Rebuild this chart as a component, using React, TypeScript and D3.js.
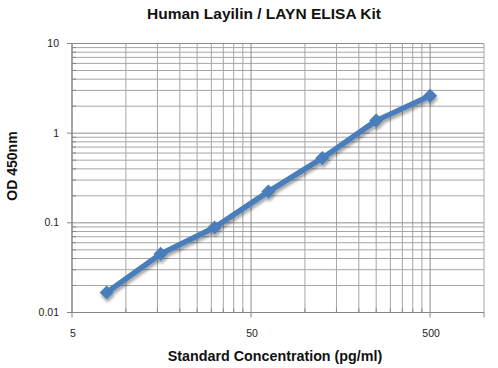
import React from "react";
import * as d3 from "d3";

const concentrations = [7.8125, 15.625, 31.25, 62.5, 125, 250, 500];
const odValues = [0.0167, 0.045, 0.0887, 0.223, 0.526, 1.38, 2.61];
const xTickLabels = [5, 50, 500];
const yTickLabels = [0.01, 0.1, 1, 10];
const title = "Human Layilin / LAYN ELISA Kit";
const xTitle = "Standard Concentration (pg/ml)";
const yTitle = "OD 450nm";

const W = 498;
const H = 368;
const M = { left: 72, right: 484, top: 43.5, bottom: 312.5 };

export default function App() {
  const x = d3.scaleLog().domain([5, 1000]).range([M.left, M.right]);
  const y = d3.scaleLog().domain([0.01, 10]).range([M.bottom, M.top]);

  const xMinor: number[] = [];
  [5, 50].forEach((b) => {
    for (let k = 2; k <= 9; k++) xMinor.push(b * k);
  });
  const yMinor: number[] = [];
  [0.01, 0.1, 1].forEach((b) => {
    for (let k = 2; k <= 9; k++) yMinor.push(b * k);
  });

  const line = d3
    .line<number>()
    .x((_, i) => x(concentrations[i]))
    .y((d) => y(d));

  const gridColor = "#a6a6a6";
  const axisColor = "#868686";
  const blue = "#4a7ebb";
  const font = "'Liberation Sans', Arial, sans-serif";

  return (
    <svg width={W} height={H} style={{ position: "absolute", left: 0, top: 0, background: "#fff" }}>
      <defs>
        <filter id="shadow" x="-20%" y="-20%" width="140%" height="160%">
          <feGaussianBlur in="SourceAlpha" stdDeviation="1.5" />
          <feOffset dx="1" dy="2.5" result="ob" />
          <feComponentTransfer>
            <feFuncA type="linear" slope="0.35" />
          </feComponentTransfer>
          <feMerge>
            <feMergeNode />
            <feMergeNode in="SourceGraphic" />
          </feMerge>
        </filter>
      </defs>
      <rect x={0} y={0} width={W} height={H} fill="#fff" />
      <text x={264} y={19} textAnchor="middle" fontFamily={font} fontWeight="bold" fontSize={15.5} fill="#111">
        {title}
      </text>
      {/* minor grid */}
      {xMinor.map((v) => (
        <line key={"xm" + v} x1={x(v)} x2={x(v)} y1={M.top} y2={M.bottom} stroke={gridColor} strokeWidth={1} />
      ))}
      {yMinor.map((v) => (
        <line key={"ym" + v} x1={M.left} x2={M.right} y1={y(v)} y2={y(v)} stroke={gridColor} strokeWidth={1} />
      ))}
      {/* major grid */}
      {xTickLabels.map((v) => (
        <line key={"xM" + v} x1={x(v)} x2={x(v)} y1={M.top} y2={M.bottom} stroke="#8c8c8c" strokeWidth={1} />
      ))}
      {yTickLabels.map((v) => (
        <line key={"yM" + v} x1={M.left} x2={M.right} y1={y(v)} y2={y(v)} stroke="#8c8c8c" strokeWidth={1} />
      ))}
      <line x1={M.right} x2={M.right} y1={M.top} y2={M.bottom} stroke={gridColor} />
      {/* axes */}
      <line x1={M.left} x2={M.left} y1={M.top} y2={M.bottom} stroke={axisColor} />
      <line x1={M.left} x2={M.right} y1={M.bottom} y2={M.bottom} stroke={axisColor} />
      {yTickLabels.map((v) => (
        <g key={"yt" + v}>
          <line x1={M.left - 5} x2={M.left} y1={y(v)} y2={y(v)} stroke={axisColor} />
          <text x={59} y={y(v) + 3.5} textAnchor="end" fontFamily={font} fontSize={10.5} fill="#222">
            {v}
          </text>
        </g>
      ))}
      {yMinor.map((v) => (
        <line key={"ymt" + v} x1={M.left} x2={M.left + 4} y1={y(v)} y2={y(v)} stroke={axisColor} />
      ))}
      {xTickLabels.map((v) => (
        <g key={"xt" + v}>
          <line x1={x(v)} x2={x(v)} y1={M.bottom} y2={M.bottom + 5} stroke={axisColor} />
          <text x={x(v) + 1} y={337} textAnchor="middle" fontFamily={font} fontSize={10.5} fill="#222">
            {v}
          </text>
        </g>
      ))}
      <line x1={M.right} x2={M.right} y1={M.bottom} y2={M.bottom + 5} stroke={axisColor} />
      {xMinor.map((v) => (
        <line key={"xmt" + v} x1={x(v)} x2={x(v)} y1={M.bottom - 4} y2={M.bottom} stroke={axisColor} />
      ))}
      <text x={275} y={361} textAnchor="middle" fontFamily={font} fontWeight="bold" fontSize={14.3} fill="#111">
        {xTitle}
      </text>
      <text
        transform={`translate(17,166) rotate(-90)`}
        textAnchor="middle"
        fontFamily={font}
        fontWeight="bold"
        fontSize={14}
        fill="#111"
      >
        {yTitle}
      </text>
      <g filter="url(#shadow)">
        <path d={line(odValues) || ""} fill="none" stroke={blue} strokeWidth={5.5} strokeLinejoin="round" />
        {odValues.map((v, i) => (
          <rect
            key={"p" + i}
            x={-5}
            y={-5}
            width={10}
            height={10}
            fill={blue}
            transform={`translate(${x(concentrations[i])},${y(v)}) rotate(45)`}
          />
        ))}
      </g>
    </svg>
  );
}
